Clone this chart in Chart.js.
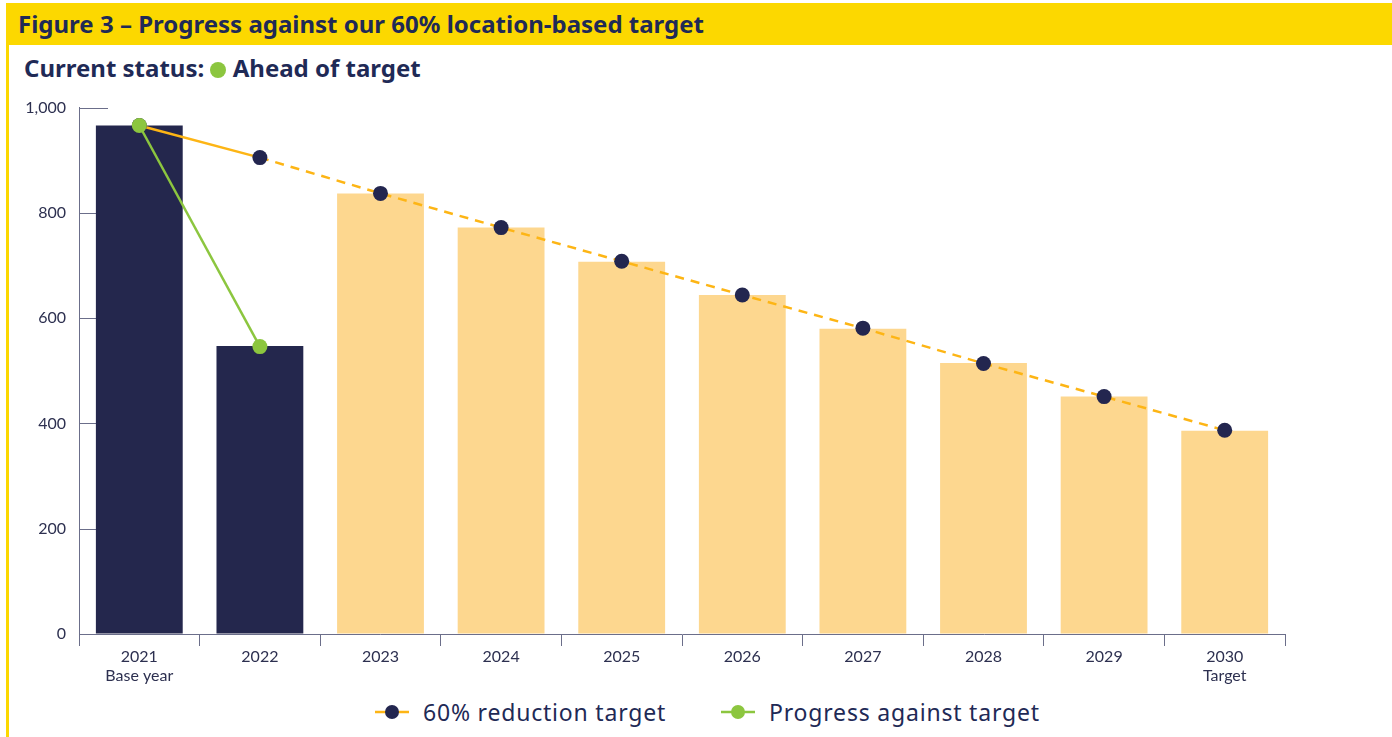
<!DOCTYPE html>
<html>
<head>
<meta charset="utf-8">
<script src="https://cdn.jsdelivr.net/npm/chart.js@4.4.1/dist/chart.umd.min.js"></script>
<style>
    body { margin: 0; width: 1392px; height: 737px; background: #fff; position: relative; overflow: hidden; font-family: "Noto Sans", sans-serif; color: #1f2a56; }
    .band { position: absolute; left: 6px; top: 3px; right: 0; height: 42px; background: #fcd800; }
    .band h1 { margin: 0; font-size: 24px; font-weight: 700; line-height: 42px; padding-left: 12px; }
    .edge { position: absolute; left: 6px; top: 45px; width: 3px; bottom: 0; background: #fcd800; }
    .status { position: absolute; left: 24px; top: 52px; font-size: 24px; font-weight: 700; line-height: 32px; }
    .status .dot { display: inline-block; width: 16px; height: 16px; border-radius: 50%; background: #8cc63f; vertical-align: -1px; }
    .chart-box { position: absolute; left: 0; top: 85px; width: 1392px; height: 605px; }
    .legend { position: absolute; left: 375px; top: 697px; display: flex; align-items: center; font-size: 23px; line-height: 30px; letter-spacing: 0.8px; }
    .legend .item { display: flex; align-items: center; margin-right: 55px; }
    .legend svg { margin-right: 14px; }
</style>
</head>
<body>
<div class="band"><h1>Figure 3 – Progress against our 60% location-based target</h1></div>
<div class="edge"></div>
<div class="status">Current status: <span class="dot"></span> Ahead of target</div>
<div class="chart-box"><canvas id="progressChart"></canvas></div>
<div class="legend">
    <div class="item">
        <svg width="34" height="16"><line x1="0" y1="8" x2="34" y2="8" stroke="#fdb515" stroke-width="2.5"/><circle cx="17" cy="8" r="7" fill="#23264f"/></svg>
        <span>60% reduction target</span>
    </div>
    <div class="item">
        <svg width="34" height="16"><line x1="0" y1="8" x2="34" y2="8" stroke="#8cc63f" stroke-width="2.5"/><circle cx="17" cy="8" r="7" fill="#8cc63f"/></svg>
        <span>Progress against target</span>
    </div>
</div>

<script>
var years = ['2021', '2022', '2023', '2024', '2025', '2026', '2027', '2028', '2029', '2030'];
var yearNotes = ['Base year', '', '', '', '', '', '', '', '', 'Target'];
var emissions = [966, 547, 837, 772, 707, 644, 580, 515, 451, 386];
var reductionTarget = [966, 905, 837, 772, 708, 644, 581, 514, 451, 387];
var progress = [966, 546, null, null, null, null, null, null, null, null];
var actualCount = 2; // 2021 and 2022 are measured, the rest are target bars
var yTicks = [0, 200, 400, 600, 800, 1000];

var navy = '#23264f';
var axisGrey = '#6b6e8a';

var labels = years.map(function(y, i) {
    return yearNotes[i] ? [y, yearNotes[i]] : y;
});

// short tick marks drawn inward from the y axis, under the bars
var innerTicks = {
    id: 'innerTicks',
    beforeDatasetsDraw: function(chart) {
        var ctx = chart.ctx, y = chart.scales.y, left = chart.chartArea.left;
        ctx.save();
        ctx.strokeStyle = axisGrey;
        ctx.lineWidth = 1;
        yTicks.forEach(function(v) {
            var py = Math.round(y.getPixelForValue(v)) + 0.5;
            ctx.beginPath();
            ctx.moveTo(left, py);
            ctx.lineTo(left + 29, py);
            ctx.stroke();
        });
        ctx.restore();
    }
};

var ctx = document.getElementById('progressChart').getContext('2d');
new Chart(ctx, {
    type: 'bar',
    data: {
        labels: labels,
        datasets: [{
            type: 'line',
            label: 'Progress against target',
            data: progress,
            borderColor: '#8cc63f',
            backgroundColor: '#8cc63f',
            borderWidth: 2.5,
            pointRadius: 7.5,
            pointBorderWidth: 0,
            spanGaps: false,
            order: 1
        }, {
            type: 'line',
            label: '60% reduction target',
            data: reductionTarget,
            borderColor: '#fdb515',
            backgroundColor: navy,
            borderWidth: 2.5,
            pointRadius: 7.5,
            pointBorderWidth: 0,
            segment: {
                borderDash: function(c) { return c.p0DataIndex >= 1 ? [9, 7] : undefined; }
            },
            order: 2
        }, {
            label: 'Emissions',
            data: emissions,
            backgroundColor: emissions.map(function(v, i) { return i < actualCount ? '#24274d' : '#fdd78f'; }),
            categoryPercentage: 0.72,
            barPercentage: 1,
            order: 3
        }]
    },
    options: {
        responsive: true,
        maintainAspectRatio: false,
        animation: false,
        layout: { padding: { top: 18, right: 107, left: 0, bottom: 0 } },
        plugins: {
            legend: { display: false },
            tooltip: { enabled: false }
        },
        scales: {
            x: {
                grid: { drawOnChartArea: false, drawTicks: true, tickLength: 12, color: axisGrey },
                border: { color: axisGrey, width: 1 },
                ticks: { color: '#2d3050', font: { family: 'Lato', size: 16 }, padding: 1, maxRotation: 0 },
                afterFit: function(scale) { scale.height = 56; }
            },
            y: {
                min: 0,
                max: 1000,
                afterBuildTicks: function(scale) {
                    scale.ticks = yTicks.map(function(v) { return { value: v }; });
                },
                grid: { display: true, drawOnChartArea: false, drawTicks: false },
                border: { color: axisGrey, width: 1 },
                ticks: {
                    color: '#2d3050',
                    font: { family: 'Lato', size: 16 },
                    padding: 13,
                    callback: function(v) { return v.toLocaleString('en-US'); }
                },
                afterFit: function(scale) { scale.width = 79; }
            }
        }
    },
    plugins: [innerTicks]
});
</script>
</body>
</html>
